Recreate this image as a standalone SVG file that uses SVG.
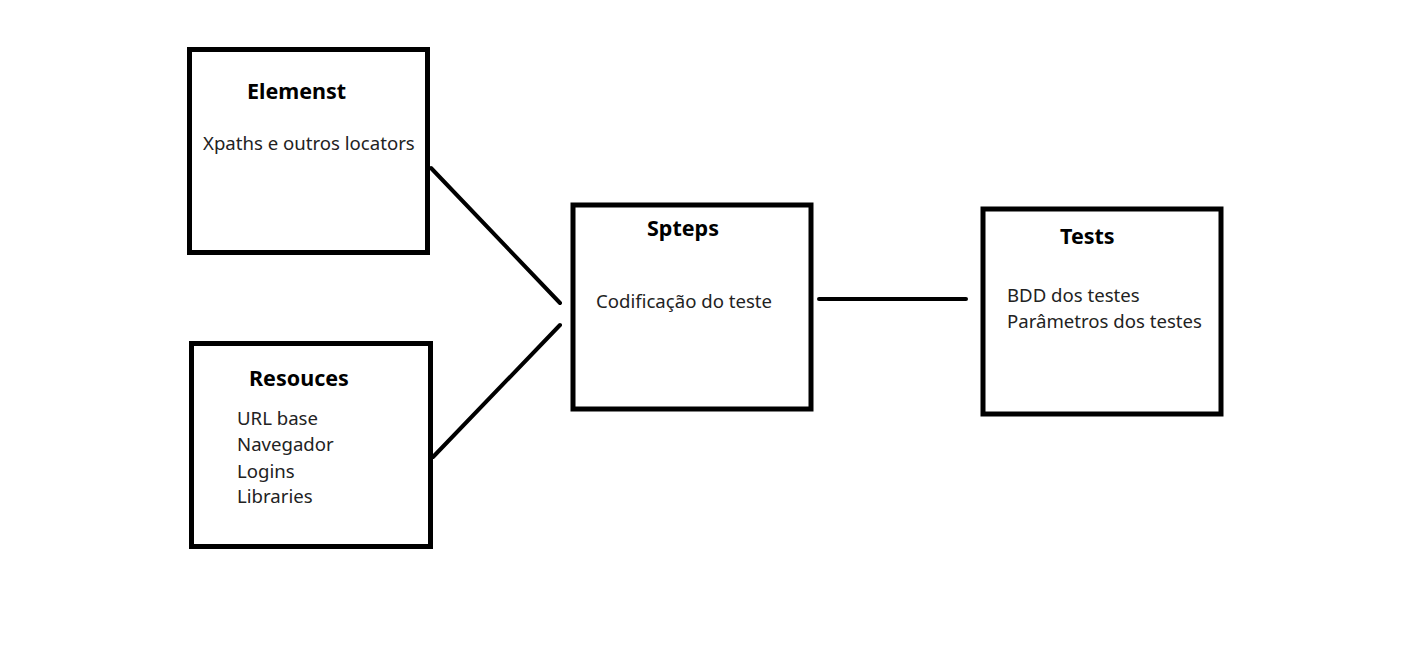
<svg xmlns="http://www.w3.org/2000/svg" width="1402" height="648" viewBox="0 0 1402 648">
<style>
.box{fill:#fff;stroke:#000;stroke-width:5}
.t{font-family:"Noto Sans","Open Sans",sans-serif;font-weight:bold;font-size:21.5px;fill:#000}
.b{font-family:"Noto Sans","Open Sans",sans-serif;font-size:18.6px;fill:#222}
.c{stroke:#000;stroke-width:4;stroke-linecap:round;fill:none}
</style>
<rect width="1402" height="648" fill="#fff"/>
<g id="connectors">
<line class="c" x1="431" y1="168" x2="560" y2="303"/>
<line class="c" x1="433" y1="457" x2="560" y2="325"/>
<line class="c" x1="819" y1="299" x2="966" y2="299"/>
</g>
<g id="elemenst">
<rect class="box" x="189.5" y="49.5" width="238" height="203"/>
<text class="t" x="247" y="99">Elemenst</text>
<text class="b" x="203" y="150">Xpaths e outros locators</text>
</g>
<g id="resouces">
<rect class="box" x="191.5" y="343.5" width="239" height="203"/>
<text class="t" x="249" y="386">Resouces</text>
<text class="b" x="237" y="425">URL base</text>
<text class="b" x="237" y="451">Navegador</text>
<text class="b" x="237" y="478">Logins</text>
<text class="b" x="237" y="503">Libraries</text>
</g>
<g id="spteps">
<rect class="box" x="573" y="205" width="238" height="204"/>
<text class="t" x="647" y="236">Spteps</text>
<text class="b" x="596" y="308">Codificação do teste</text>
</g>
<g id="tests">
<rect class="box" x="983" y="209" width="238" height="205"/>
<text class="t" x="1060" y="244">Tests</text>
<text class="b" x="1007" y="302">BDD dos testes</text>
<text class="b" x="1007" y="328">Parâmetros dos testes</text>
</g>
</svg>
